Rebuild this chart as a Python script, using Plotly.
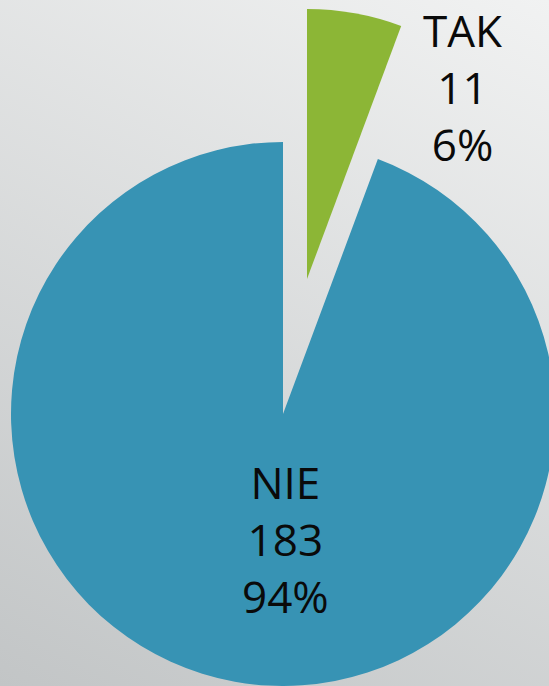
import base64
import plotly.graph_objects as go

# ---- data ----
labels = ["TAK", "NIE"]
values = [11, 183]
colors = ["#8cb636", "#3793b4"]

total = sum(values)
percents = [round(v / total * 100) for v in values]
label_text = [f"{l}<br>{v}<br>{p}%" for l, v, p in zip(labels, values, percents)]

# ---- layout geometry (pixels) ----
W, H = 580, 686
BLUE_C, BLUE_R = (283, 414), 272
GREEN_C, GREEN_R = (307, 279), 270


def domain(c, r):
    cx, cy = c
    return dict(
        x=[max(0, (cx - r) / W), min(1, (cx + r) / W)],
        y=[max(0, 1 - (cy + r) / H), min(1, 1 - (cy - r) / H)],
    )


clear = "rgba(0,0,0,0)"

fig = go.Figure()
# main (NIE) slice
fig.add_trace(go.Pie(
    labels=labels, values=values, sort=False, direction="clockwise", rotation=0,
    marker=dict(colors=[clear, colors[1]], line=dict(width=0)),
    textinfo="none", hoverinfo="label+value+percent", showlegend=False,
    domain=domain(BLUE_C, BLUE_R),
))
# exploded (TAK) slice
fig.add_trace(go.Pie(
    labels=labels, values=values, sort=False, direction="clockwise", rotation=0,
    marker=dict(colors=[colors[0], clear], line=dict(width=0)),
    textinfo="none", hoverinfo="label+value+percent", showlegend=False,
    domain=domain(GREEN_C, GREEN_R),
))

# background gradient
svg = f"""<svg xmlns='http://www.w3.org/2000/svg' width='{W}' height='{H}'>
<defs><linearGradient id='g' gradientUnits='userSpaceOnUse' x1='549' y1='0' x2='160' y2='767'>
<stop offset='0' stop-color='#f1f2f2'/><stop offset='1' stop-color='#c2c5c6'/></linearGradient></defs>
<rect width='{W}' height='{H}' fill='url(#g)'/></svg>"""
src = "data:image/svg+xml;base64," + base64.b64encode(svg.encode()).decode()

font = dict(family="Open Sans, sans-serif", size=44, color="#0a0a0a")
ann_pos = [(462, 87), (285, 539)]
annotations = [
    dict(text=t, x=px / W, y=1 - py / H, xref="paper", yref="paper",
         showarrow=False, xanchor="center", yanchor="middle", align="center", font=font)
    for t, (px, py) in zip(label_text, ann_pos)
]

fig.update_layout(
    width=W, height=H,
    margin=dict(l=0, r=0, t=0, b=0),
    paper_bgcolor="#dcdedf",
    images=[dict(source=src, xref="paper", yref="paper", x=0, y=1, sizex=1, sizey=1,
                 sizing="stretch", layer="below", xanchor="left", yanchor="top")],
    annotations=annotations,
)

fig.write_html(
    "out.html",
    config={"displayModeBar": False},
    post_script=(
        "document.body.style.margin='0';"
        "document.body.style.overflow='hidden';"
        "document.documentElement.style.overflow='hidden';"
    ),
)
